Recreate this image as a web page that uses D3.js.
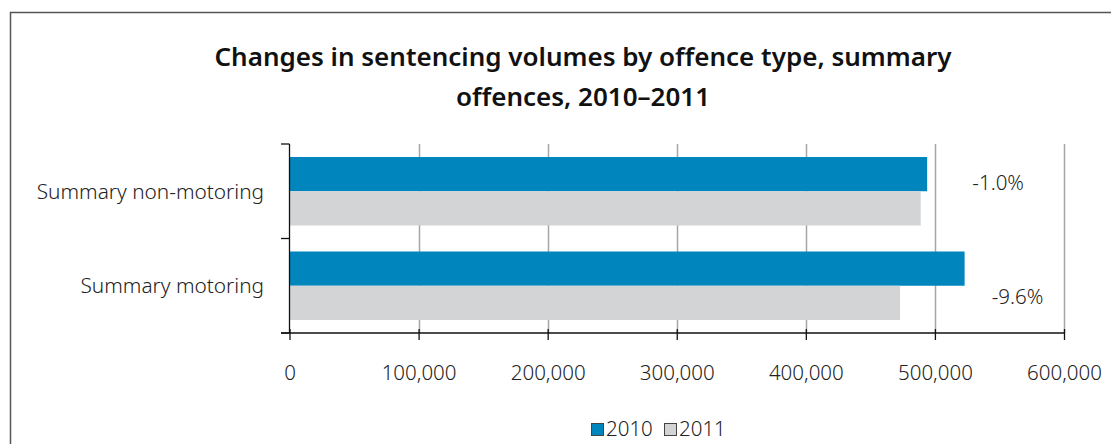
<!DOCTYPE html>
<html><head><meta charset="utf-8">
<script src="https://cdn.jsdelivr.net/npm/d3@7"></script>
<style>
html,body{margin:0;padding:0;background:#fff;}
svg{display:block;}
</style></head>
<body>
<script>
const categories = ["Summary non-motoring", "Summary motoring"];
const seriesNames = ["2010", "2011"];
const values2010 = [494000, 523000];
const values2011 = [489000, 473000];
const changeLabels = ["-1.0%", "-9.6%"];
const xTicks = [0, 100000, 200000, 300000, 400000, 500000, 600000];
const titleLines = ["Changes in sentencing volumes by offence type, summary", "offences, 2010\u20132011"];

(function () {
const W = 1111, H = 444;
const svg = d3.select("body").append("svg").attr("width", W).attr("height", H);
const lightFont = "'Noto Sans', sans-serif";

// outer frame
svg.append("rect").attr("x", 10.5).attr("y", 12.5).attr("width", 1200).attr("height", 600)
  .attr("fill", "none").attr("stroke", "#555").attr("stroke-width", 1.5);

// title
svg.append("g").selectAll("text").data(titleLines).join("text")
  .attr("x", 583).attr("y", (d, i) => 66 + i * 40)
  .attr("text-anchor", "middle")
  .attr("font-family", "'Noto Sans', sans-serif").attr("font-weight", 600)
  .attr("font-size", 26).attr("fill", "#111").text(d => d);

const pLeft = 289.5, pRight = 1064, pTop = 144, pBottom = 333;
const x = d3.scaleLinear().domain([0, 600000]).range([pLeft, pRight]);
const y = d3.scaleBand().domain(categories).range([pTop, pBottom]).paddingInner(0.275).paddingOuter(0.1375);
const ySub = d3.scaleBand().domain(seriesNames).range([0, y.bandwidth()]);
const colors = { "2010": "#0085bd", "2011": "#d3d4d6" };

// gridlines
svg.append("g").selectAll("line").data(xTicks.slice(1)).join("line")
  .attr("x1", d => Math.round(x(d)) + 0.5).attr("x2", d => Math.round(x(d)) + 0.5)
  .attr("y1", pTop).attr("y2", pBottom)
  .attr("stroke", "#a6a6a6").attr("stroke-width", 1.5);

// bars
const rows = categories.map((c, i) => ({ c, vals: [ { s: "2010", v: values2010[i] }, { s: "2011", v: values2011[i] } ] }));
const g = svg.append("g").selectAll("g").data(rows).join("g")
  .attr("transform", d => `translate(0,${y(d.c)})`);
g.selectAll("rect").data(d => d.vals).join("rect")
  .attr("x", x(0)).attr("y", d => ySub(d.s))
  .attr("width", d => x(d.v) - x(0)).attr("height", ySub.bandwidth())
  .attr("fill", d => colors[d.s]);

// change labels
const labelX = [x(549000), x(564000)];
const labelY = [185, 299];
svg.append("g").selectAll("text").data(changeLabels).join("text")
  .attr("x", (d, i) => labelX[i]).attr("y", (d, i) => labelY[i])
  .attr("text-anchor", "middle").attr("dominant-baseline", "middle")
  .attr("font-family", lightFont).attr("font-weight", 300)
  .attr("font-size", 20.5).attr("fill", "#222").text(d => d);

// x axis
const xAxis = d3.axisBottom(x).tickValues(xTicks).tickSize(7).tickPadding(25)
  .tickFormat(d3.format(","));
const gx = svg.append("g").attr("transform", `translate(0,${pBottom})`).call(xAxis);
gx.select(".domain").remove();
gx.selectAll(".tick line").attr("stroke", "#111").attr("stroke-width", 1.3).attr("y1", -4);
gx.selectAll("text").attr("font-family", lightFont).attr("font-weight", 300)
  .attr("font-size", 20.5).attr("fill", "#222");
svg.append("line").attr("x1", 281).attr("x2", pRight + 1).attr("y1", pBottom).attr("y2", pBottom)
  .attr("stroke", "#111").attr("stroke-width", 1.3);

// y axis
svg.append("line").attr("x1", pLeft).attr("x2", pLeft).attr("y1", pTop).attr("y2", pBottom)
  .attr("stroke", "#111").attr("stroke-width", 1.3);
const yTickPos = [pTop, (pTop + pBottom) / 2, pBottom];
svg.append("g").selectAll("line").data(yTickPos).join("line")
  .attr("x1", 281).attr("x2", pLeft).attr("y1", d => d).attr("y2", d => d)
  .attr("stroke", "#111").attr("stroke-width", 1.3);
svg.append("g").selectAll("text").data(categories).join("text")
  .attr("x", 264).attr("y", d => y(d) + y.bandwidth() / 2 + 2)
  .attr("text-anchor", "end").attr("dominant-baseline", "middle")
  .attr("font-family", lightFont).attr("font-weight", 300)
  .attr("font-size", 20.8).attr("fill", "#222").text(d => d);

// legend
const leg = svg.append("g").attr("transform", "translate(591,423)");
const legX = [0, 73];
const items = leg.selectAll("g").data(seriesNames).join("g")
  .attr("transform", (d, i) => `translate(${legX[i]},0)`);
items.append("rect").attr("x", 0.5).attr("y", 0.5).attr("width", 12).attr("height", 12)
  .attr("fill", d => colors[d]).attr("stroke", "#444").attr("stroke-width", 1);
items.append("text").attr("x", 15).attr("y", 7.5).attr("dominant-baseline", "middle")
  .attr("font-family", lightFont).attr("font-weight", 300)
  .attr("font-size", 20.5).attr("fill", "#222").text(d => d);
})();
</script>
</body></html>
